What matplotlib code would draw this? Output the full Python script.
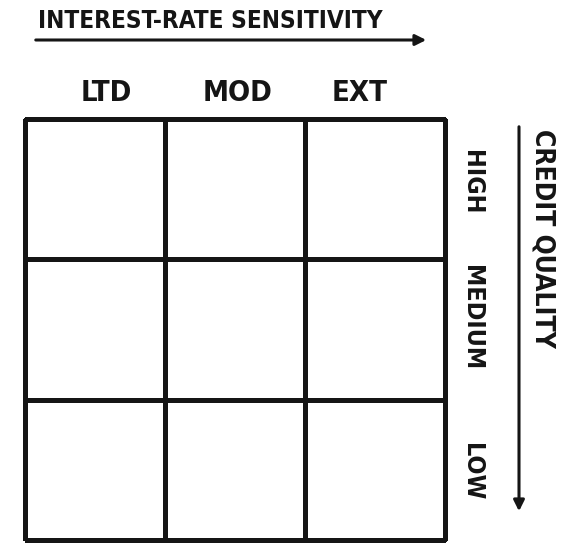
import numpy as np
import matplotlib.pyplot as plt
from matplotlib.patches import FancyArrowPatch

# style box labels
cols = ['LTD', 'MOD', 'EXT']
rows = ['HIGH', 'MEDIUM', 'LOW']
cells = np.zeros((3, 3))
x_title = 'INTEREST-RATE SENSITIVITY'
y_title = 'CREDIT QUALITY'

W, H = 585, 543
fig = plt.figure(figsize=(W / 100, H / 100), dpi=100)

def fx(px):
    return px / W

def fy(py):
    return 1 - py / H

font = dict(family='DejaVu Sans', fontweight='bold', fontstretch='condensed', color='#151515')
ink = '#151515'

# grid
ax = fig.add_axes([fx(25), fy(540), fx(445) - fx(25), fy(119) - fy(540)])
mesh = ax.pcolormesh(cells, cmap='Greys', vmin=0, vmax=1, edgecolors=ink, linewidth=2.2)
mesh.set_clip_on(False)
ax.set_xlim(0, 3)
ax.set_ylim(0, 3)
ax.set_axis_off()

# column labels
col_x = [106, 238, 360]
for c, x in zip(cols, col_x):
    fig.text(fx(x), fy(93), c, ha='center', va='center', fontsize=21, **font)

# row labels
row_y = [182, 318, 472]
for r, y in zip(rows, row_y):
    fig.text(fx(472), fy(y), r, ha='center', va='center', rotation=-90, fontsize=18, **font)

# top title and arrow
fig.text(fx(38), fy(21), x_title, ha='left', va='center', fontsize=17.5, **font)
fig.add_artist(FancyArrowPatch((fx(33), fy(40)), (fx(429), fy(40)),
                               transform=fig.transFigure, arrowstyle='-|>',
                               mutation_scale=16, color=ink, lw=2.2))

# right title and arrow
fig.text(fx(542), fy(238), y_title, ha='center', va='center', rotation=-90, fontsize=19, **font)
fig.add_artist(FancyArrowPatch((fx(519), fy(124)), (fx(519), fy(514)),
                               transform=fig.transFigure, arrowstyle='-|>',
                               mutation_scale=16, color=ink, lw=2.2))

fig.savefig('out.png', dpi=100)
